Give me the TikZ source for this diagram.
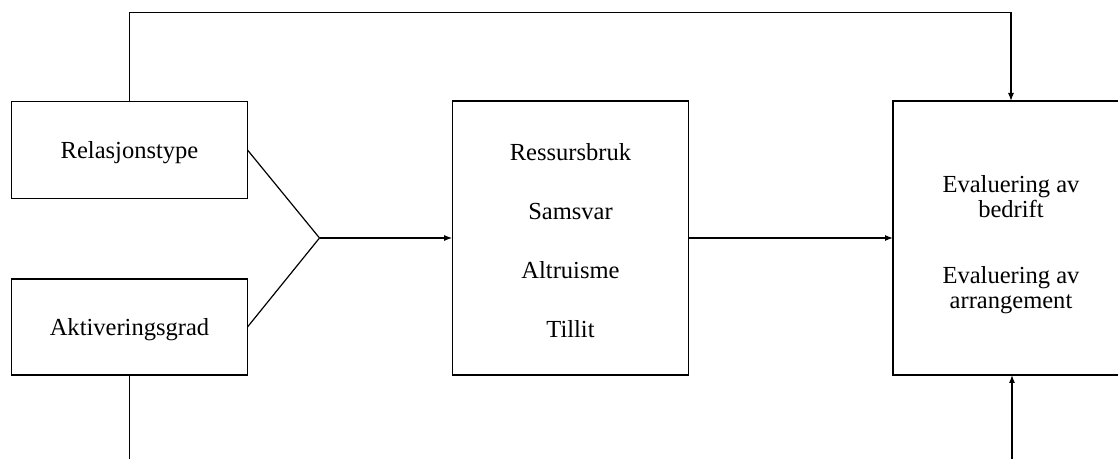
\documentclass[tikz,border=0pt]{standalone}
\usepackage{fontspec}
\setmainfont{Liberation Serif}
\usetikzlibrary{arrows.meta}
\begin{document}
\begin{tikzpicture}[x=0.75pt,y=-0.75pt,
  every node/.style={inner sep=0pt,outer sep=0pt},
  box/.style={draw,line width=0.9pt,align=center,font=\fontsize{18.4}{19}\selectfont},
  wire/.style={line width=0.9pt},
  arr/.style={wire,-{Latex[length=6pt,width=4.5pt]}}]
  \path[use as bounding box,clip] (0,0) rectangle (1118,459);

  % input boxes
  \node[box,minimum width=177pt,minimum height=73pt,text depth=0pt] (rel) at (129.5,150) {Relasjonstype};
  \node[box,minimum width=177pt,minimum height=72pt,text depth=0pt] (akt) at (129.5,327) {Aktiveringsgrad};

  % mediating variables
  \node[box,minimum width=177.5pt,minimum height=205.5pt,
        font=\fontsize{18.4}{44.4}\selectfont] (mid) at (570.5,238)
        {\rule{0pt}{16.5pt}Ressursbruk\\Samsvar\\Altruisme\\Tillit};

  % outcome box
  \node[box,minimum width=177pt,minimum height=205.5pt] (eval) at (1011,238)
        {\rule{0pt}{23pt}Evaluering av\\bedrift\\[30.3pt]Evaluering av\\arrangement};

  % junction of the two inputs
  \coordinate (j) at (319.5,238);
  \draw[wire] (rel.east) -- (j) -- (akt.east);
  \draw[arr] (j) -- (mid.west |- j);
  \draw[arr] (mid.east) -- (eval.west |- mid.east);

  % direct path over the top
  \coordinate (top) at (1011,12.3);
  \draw[arr] (rel.north) |- (top) -- (eval.north);

  % lines leaving at the bottom
  \coordinate (bl) at (129.5,470);
  \coordinate (br) at (1012,470);
  \draw[wire] (akt.south) -- (bl);
  \draw[arr] (br) -- (br |- eval.south);
\end{tikzpicture}
\end{document}
